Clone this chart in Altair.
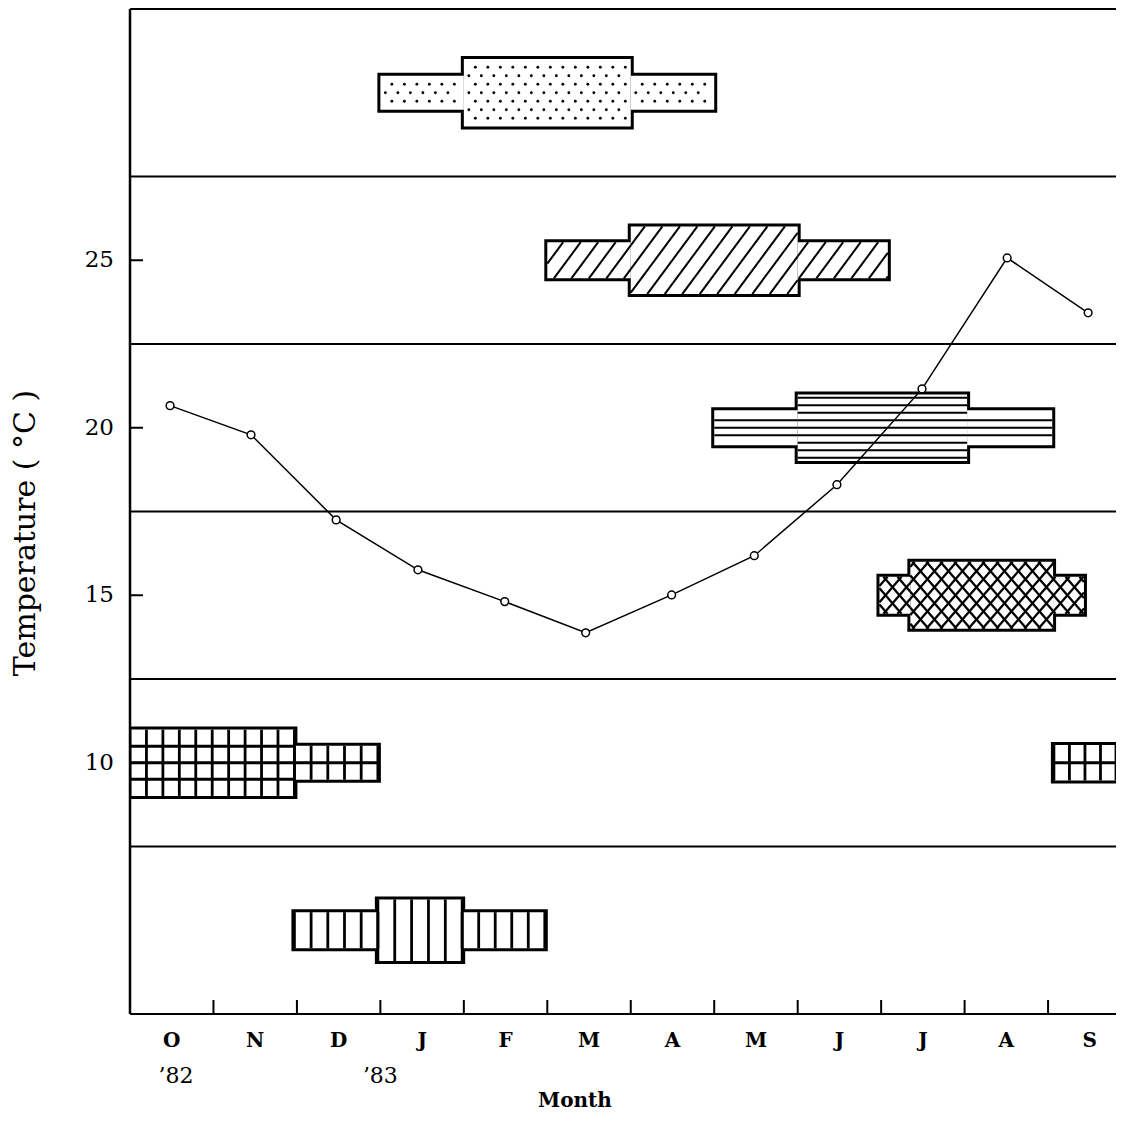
import altair as alt
import pandas as pd
import numpy as np

# ---------------- data ----------------
month_labels = ["O", "N", "D", "J", "F", "M", "A", "M", "J", "J", "A", "S"]
month_label_pos = [0.5, 1.5, 2.5, 3.5, 4.5, 5.5, 6.5, 7.5, 8.5, 9.5, 10.5, 11.5]
month_boundaries = [1, 2, 3, 4, 5, 6, 7, 8, 9, 10, 11]
sample_month = [0.48, 1.45, 2.47, 3.45, 4.49, 5.46, 6.49, 7.48, 8.47, 9.49, 10.51, 11.48]
water_temp = [20.66, 19.79, 17.25, 15.76, 14.81, 13.88, 15.01, 16.18, 18.30, 21.16, 25.07, 23.43]
year_labels = ["\u201982", "\u201983"]
year_label_pos = [0.55, 3.0]
y_tick_values = [10, 15, 20, 25]
band_edges = [2.5, 7.5, 12.5, 17.5, 22.5, 27.5, 32.5]

# occurrence bands: centre (deg C), fill pattern, segments (start month, end month, half width)
kite_center = [30, 25, 20, 15, 10, 5]
kite_pattern = ["dots", "diagonal", "horizontal", "crosshatch", "grid", "vertical"]
kite_start = [[3.0, 4.0, 6.0], [5.0, 6.0, 8.0], [7.0, 8.0, 10.03],
              [8.98, 9.35, 11.06], [0.0, 1.97, 11.07], [1.97, 2.97, 3.98]]
kite_end = [[4.0, 6.0, 7.0], [6.0, 8.0, 9.08], [8.0, 10.03, 11.05],
            [9.35, 11.06, 11.43], [1.97, 2.97, 12.0], [2.97, 3.98, 4.97]]
kite_half = [[0.51, 1.01, 0.51], [0.54, 1.01, 0.54], [0.52, 0.99, 0.52],
             [0.55, 1.0, 0.55], [0.99, 0.51, 0.53], [0.54, 0.92, 0.54]]

# ---------------- layout ----------------
PXM = 83.46            # pixels per month
W = 986
H = 1005
XMAX = W / PXM
YMIN, YMAX = 2.5, 32.5
PXD = H / (YMAX - YMIN)
FONT = "DejaVu Serif"

xs = alt.Scale(domain=[0, XMAX], nice=False, zero=False)
ys = alt.Scale(domain=[YMIN, YMAX], nice=False, zero=False)

# ---------------- build kite shapes + fill patterns ----------------
rects, lines, dots = [], [], []
for b in range(len(kite_center)):
    yc = kite_center[b]
    pat = kite_pattern[b]
    segs = list(zip(kite_start[b], kite_end[b], kite_half[b]))
    bx0 = min(kite_start[b]) * PXM
    bx1 = max(kite_end[b]) * PXM
    for (s, e, h) in segs:
        rects.append(dict(x=s, x2=e, y=yc - h, y2=yc + h))
        X0, X1, Hh = s * PXM, e * PXM, h * PXD
        if pat in ("diagonal", "crosshatch"):
            slopes = [1.35] if pat == "diagonal" else [1.15, -1.15]
            spacing = 17.5 if pat == "diagonal" else 14.0
            lw = 2.0 if pat == "diagonal" else 2.3
            for sl in slopes:
                for c in np.arange(bx0 - 120, bx1 + 120, spacing):
                    lo, hi = sorted(((X0 - c) * sl, (X1 - c) * sl))
                    ta, tb = max(lo, -Hh), min(hi, Hh)
                    if tb - ta > 0.8:
                        lines.append(dict(x=(c + ta / sl) / PXM, x2=(c + tb / sl) / PXM,
                                          y=yc + ta / PXD, y2=yc + tb / PXD, w=lw))
        elif pat == "horizontal":
            for k in range(-6, 7):
                off = k * 7.5
                if abs(off) < Hh - 2.5:
                    lines.append(dict(x=s, x2=e, y=yc + off / PXD, y2=yc + off / PXD, w=2.0))
        elif pat in ("grid", "vertical"):
            target = 16.5 if pat == "grid" else 17.0
            n = max(1, int(round((X1 - X0) / target)))
            for k in range(n + 1):
                xv = s + k * (e - s) / n
                lines.append(dict(x=xv, x2=xv, y=yc - h, y2=yc + h, w=2.8))
            if pat == "grid":
                for k in range(-4, 5):
                    off = k * 16.5
                    if abs(off) < Hh - 3:
                        lines.append(dict(x=s, x2=e, y=yc + off / PXD, y2=yc + off / PXD, w=2.8))
        elif pat == "dots":
            for k in range(-5, 6):
                off = k * 8.5
                if abs(off) < Hh - 4:
                    xp = X0 + 5 + (6.5 if k % 2 else 0)
                    while xp < X1 - 4:
                        dots.append(dict(x=xp / PXM, y=yc + off / PXD))
                        xp += 12.5

rect_df = pd.DataFrame(rects)
line_df = pd.DataFrame(lines)
dot_df = pd.DataFrame(dots)

# ---------------- layers ----------------
outline = alt.Chart(rect_df).mark_rect(fill="white", stroke="black", strokeWidth=6, clip=True).encode(
    x=alt.X("x:Q", scale=xs, axis=None), x2="x2:Q",
    y=alt.Y("y:Q", scale=ys, axis=None), y2="y2:Q")
cover = alt.Chart(rect_df).mark_rect(fill="white", strokeWidth=0, clip=True).encode(
    x=alt.X("x:Q", scale=xs, axis=None), x2="x2:Q",
    y=alt.Y("y:Q", scale=ys, axis=None), y2="y2:Q")
pattern_lines = alt.Chart(line_df).mark_rule(color="black", clip=True).encode(
    x=alt.X("x:Q", scale=xs, axis=None), x2="x2:Q",
    y=alt.Y("y:Q", scale=ys, axis=None), y2="y2:Q",
    strokeWidth=alt.StrokeWidth("w:Q", scale=None, legend=None))
pattern_dots = alt.Chart(dot_df).mark_circle(color="black", size=8, opacity=1).encode(
    x=alt.X("x:Q", scale=xs, axis=None), y=alt.Y("y:Q", scale=ys, axis=None))

band_df = pd.DataFrame({"v": band_edges})
band_lines = alt.Chart(band_df).mark_rule(color="black", strokeWidth=2).encode(
    y=alt.Y("v:Q", scale=ys, axis=None), x=alt.value(0), x2=alt.value(W))

axis_df = pd.DataFrame({"a": [0]})
left_axis = alt.Chart(axis_df).mark_rule(color="black", strokeWidth=2.5).encode(
    x=alt.value(0), y=alt.value(0), y2=alt.value(H))

ytick_df = pd.DataFrame({"v": y_tick_values})
y_ticks = alt.Chart(ytick_df).mark_rule(color="black", strokeWidth=2).encode(
    y=alt.Y("v:Q", scale=ys, axis=None), x=alt.value(0), x2=alt.value(13))
y_labels = alt.Chart(ytick_df).mark_text(font=FONT, fontSize=23, align="right", baseline="middle",
                                         color="black").encode(
    y=alt.Y("v:Q", scale=ys, axis=None), x=alt.value(-16), text="v:Q")

xb_df = pd.DataFrame({"b": month_boundaries})
x_ticks = alt.Chart(xb_df).mark_rule(color="black", strokeWidth=2).encode(
    x=alt.X("b:Q", scale=xs, axis=None), y=alt.value(H), y2=alt.value(H - 14))

ml_df = pd.DataFrame({"m": month_label_pos, "lab": month_labels})
m_labels = alt.Chart(ml_df).mark_text(font=FONT, fontSize=20, fontWeight="bold", baseline="middle",
                                      color="black").encode(
    x=alt.X("m:Q", scale=xs, axis=None), y=alt.value(H + 27), text="lab:N")

yl_df = pd.DataFrame({"m": year_label_pos, "lab": year_labels})
yr_labels = alt.Chart(yl_df).mark_text(font=FONT, fontSize=22, baseline="middle", color="black").encode(
    x=alt.X("m:Q", scale=xs, axis=None), y=alt.value(H + 62), text="lab:N")

xt_df = pd.DataFrame({"t": ["Month"]})
x_title = alt.Chart(xt_df).mark_text(font=FONT, fontSize=20, fontWeight="bold", baseline="middle",
                                     color="black").encode(
    x=alt.value(445), y=alt.value(H + 87), text="t:N")

yt_df = pd.DataFrame({"t": ["Temperature ( \u00b0C )"]})
y_title = alt.Chart(yt_df).mark_text(font=FONT, fontSize=30, angle=270, baseline="middle",
                                     color="black").encode(
    x=alt.value(-104), y=alt.value(524), text="t:N")

temp_df = pd.DataFrame({"m": sample_month, "t": water_temp})
temp_line = alt.Chart(temp_df).mark_line(color="black", strokeWidth=1.5).encode(
    x=alt.X("m:Q", scale=xs, axis=None), y=alt.Y("t:Q", scale=ys, axis=None), order="m:Q")
temp_pts = alt.Chart(temp_df).mark_circle(size=60, color="white", stroke="black", strokeWidth=1.5,
                                          opacity=1).encode(
    x=alt.X("m:Q", scale=xs, axis=None), y=alt.Y("t:Q", scale=ys, axis=None))

chart = alt.layer(
    outline, cover, pattern_lines, pattern_dots,
    band_lines, left_axis, y_ticks, x_ticks,
    temp_line, temp_pts,
    y_labels, m_labels, yr_labels, x_title, y_title,
).properties(
    width=W, height=H,
    padding={"left": 122, "top": 1, "right": 0, "bottom": 100},
    autosize=alt.AutoSizeParams(type="none"),
    background="white",
).configure_view(stroke=None)

chart.save("out.html", embed_options={"renderer": "svg", "actions": False})
